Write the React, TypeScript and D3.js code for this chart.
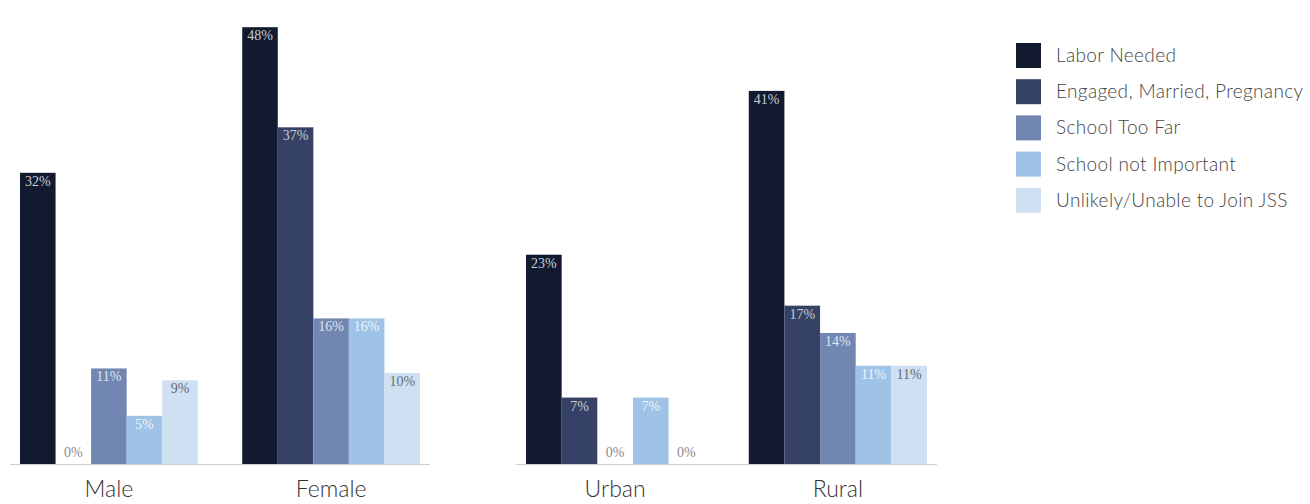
import React from "react";
import * as d3 from "d3";

const series = [
  "Labor Needed",
  "Engaged, Married, Pregnancy",
  "School Too Far",
  "School not Important",
  "Unlikely/Unable to Join JSS",
];
const colors = ["#111a2e", "#354265", "#7286b2", "#9ec3e6", "#cfe0f3"];
const labelColors = ["#c9ccd4", "#c9ccd4", "#dfe4ee", "#eef3f9", "#666a72"];

const panel1Cats = ["Male", "Female"];
const panel1Values = [
  [32, 0, 10.5, 5.3, 9.2],
  [48, 37, 16, 16, 10],
];
const panel2Cats = ["Urban", "Rural"];
const panel2Values = [
  [23, 7.3, 0, 7.3, 0],
  [41, 17.4, 14.4, 10.8, 10.8],
];

const W = 1310;
const H = 504;
const baseY = 464;

const y = d3.scaleLinear().domain([0, 50]).range([baseY, 9]);

function Panel({ cats, values, x0, x1 }: { cats: string[]; values: number[][]; x0: number; x1: number }) {
  const outer = d3.scaleBand<string>().domain(cats).range([x0, x1]).paddingInner(0.2).paddingOuter(0.045);
  const inner = d3.scaleBand<string>().domain(series).range([0, outer.bandwidth()]).padding(0);
  return (
    <g>
      {cats.map((c, ci) => (
        <g key={c} transform={`translate(${outer(c)},0)`}>
          {values[ci].map((v, si) => {
            const bx = inner(series[si])!;
            const top = y(v);
            return (
              <g key={si}>
                {v > 0 && (
                  <rect x={bx} y={top} width={inner.bandwidth()} height={baseY - top} fill={colors[si]} />
                )}
                <text
                  x={bx + inner.bandwidth() / 2}
                  y={v > 0 ? top + 13 : baseY - 7}
                  textAnchor="middle"
                  fontFamily="'Liberation Serif', serif"
                  fontSize={14}
                  fill={v > 0 ? labelColors[si] : "#8a8a8a"}
                >
                  {Math.round(v)}%
                </text>
              </g>
            );
          })}
          <text
            x={outer.bandwidth() / 2}
            y={497}
            textAnchor="middle"
            fontFamily="Lato, sans-serif"
            fontWeight={300}
            fontSize={23}
            fill="#333"
          >
            {c}
          </text>
        </g>
      ))}
      <line x1={x0} x2={x1} y1={baseY + 0.5} y2={baseY + 0.5} stroke="#cfcfcf" strokeWidth={1} />
    </g>
  );
}

export default function App() {
  return (
    <svg
      width={W}
      height={H}
      style={{ position: "absolute", left: 0, top: 0, background: "#fff" }}
    >
      <Panel cats={panel1Cats} values={panel1Values} x0={10} x1={430} />
      <Panel cats={panel2Cats} values={panel2Values} x0={516} x1={937} />
      <g transform="translate(1016,43)">
        {series.map((s, i) => (
          <g key={s} transform={`translate(0,${i * 36.2})`}>
            <rect x={0} y={0} width={25} height={25} fill={colors[i]} />
            <text
              x={40}
              y={19}
              fontFamily="Lato, sans-serif"
              fontWeight={300}
              fontSize={19}
              letterSpacing={0.35}
              fill="#444"
            >
              {s}
            </text>
          </g>
        ))}
      </g>
    </svg>
  );
}
